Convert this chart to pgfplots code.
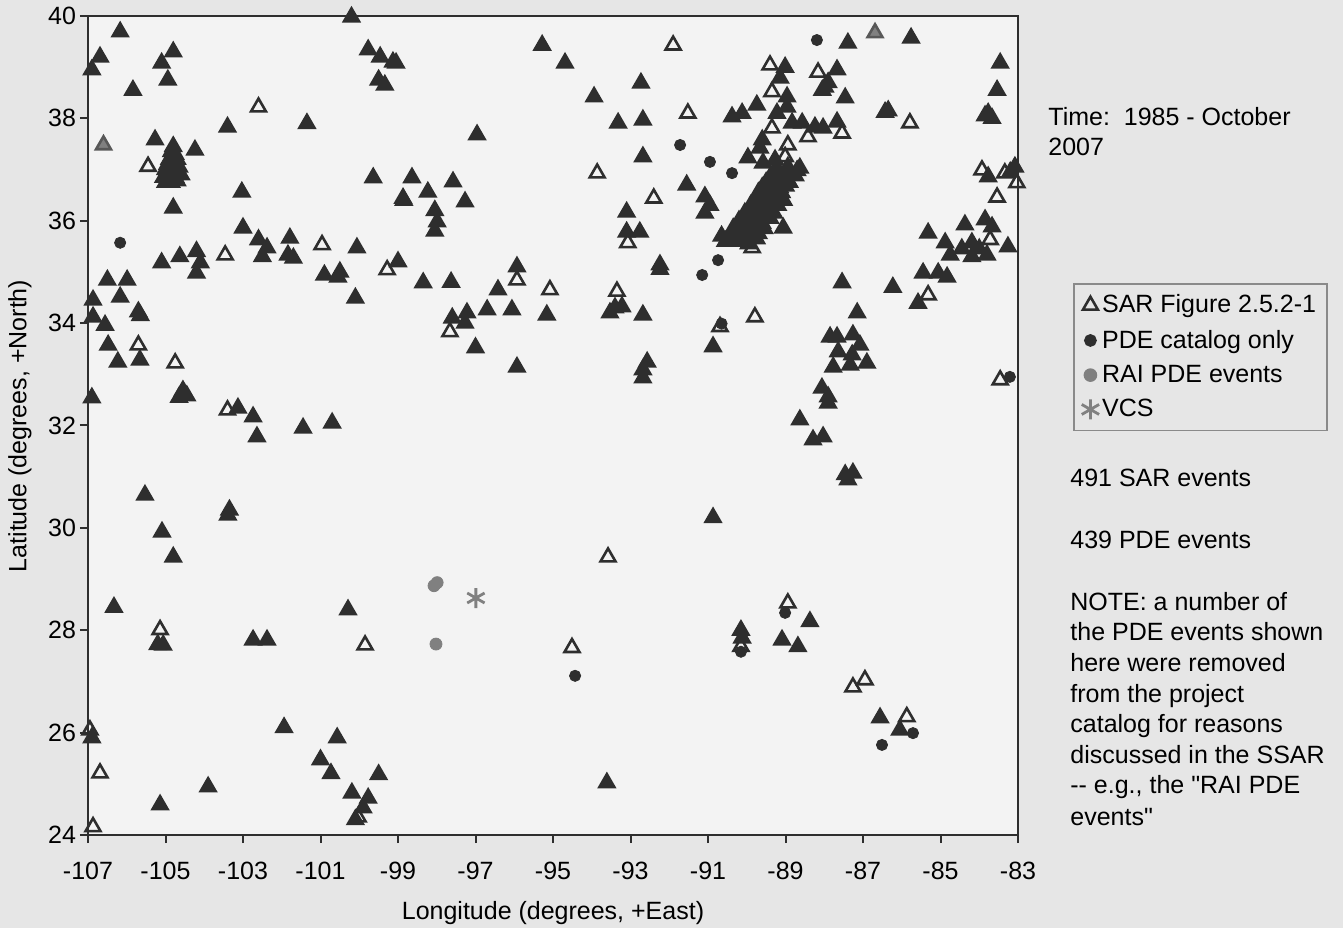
\documentclass[border=0pt]{standalone}
\usepackage{fontspec}
\setmainfont{Liberation Sans}[Ligatures=TeXOff]
\usepackage{pgfplots}
\usepackage{pgfplotstable}
\pgfplotsset{compat=1.18}
\definecolor{pagebg}{HTML}{E6E6E6}
\definecolor{plotbg}{HTML}{F3F3F3}
\definecolor{ink}{HTML}{2E2E2E}
\definecolor{rai}{HTML}{808080}
\definecolor{legline}{HTML}{8A8A8A}
\newcommand{\lbl}{\fontsize{12.5}{15}\selectfont}
\pgfplotsset{
  dotimg/.style={legend image code/.code={\draw[##1] plot coordinates {(0pt,0pt)};}},
}

% SAR events with no PDE match (open triangles)
\pgfplotstableread{
lon lat
-105.45 37.06
-102.60 38.22
-100.96 35.53
-103.46 35.33
-99.28 35.04
-105.70 33.57
-104.75 33.22
-103.40 32.30
-105.14 28.01
-99.85 27.71
-106.95 26.05
-106.69 25.21
-106.87 24.16
-100.03 24.35
-91.90 39.43
-91.52 38.10
-93.86 36.93
-92.40 36.44
-93.07 35.57
-95.93 34.84
-95.08 34.65
-93.35 34.62
-97.66 33.83
-93.58 29.43
-94.51 27.66
-89.40 39.04
-88.16 38.90
-89.35 38.52
-89.35 37.81
-87.54 37.71
-88.42 37.64
-88.94 37.48
-89.01 37.25
-89.86 35.47
-85.79 37.91
-83.93 36.99
-83.34 36.93
-83.03 36.74
-83.54 36.46
-83.72 35.63
-85.32 34.55
-89.79 34.12
-90.69 33.93
-83.46 32.89
-88.94 28.53
-90.15 27.68
-87.26 26.89
-86.95 27.03
-85.87 26.31
}\saronly

% SAR events matched in the PDE catalog (filled triangles)
\pgfplotstableread{
lon lat
-106.17 39.69
-106.69 39.20
-106.90 38.95
-104.80 39.30
-105.10 39.08
-104.94 38.75
-105.84 38.55
-103.40 37.83
-101.35 37.90
-105.27 37.58
-104.24 37.38
-104.80 37.45
-104.85 37.35
-104.75 37.30
-104.90 37.20
-104.70 37.20
-104.95 37.10
-104.80 37.10
-104.65 37.05
-105.00 37.00
-104.85 36.95
-104.70 36.95
-105.05 36.85
-104.90 36.85
-104.75 36.85
-104.60 36.90
-105.00 36.75
-104.85 36.75
-104.70 36.78
-100.20 39.98
-99.77 39.34
-99.46 39.20
-99.13 39.10
-99.05 39.08
-99.50 38.75
-99.34 38.65
-103.03 36.56
-99.64 36.84
-98.87 36.44
-104.80 36.25
-103.00 35.86
-102.60 35.63
-102.38 35.47
-102.50 35.30
-101.79 35.66
-101.84 35.33
-101.70 35.27
-100.06 35.47
-105.10 35.18
-104.63 35.30
-104.20 35.40
-104.10 35.18
-104.20 34.98
-100.90 34.94
-100.50 35.00
-100.55 34.90
-99.00 35.20
-106.50 34.84
-105.99 34.84
-106.87 34.45
-106.17 34.51
-105.70 34.22
-105.65 34.15
-106.87 34.12
-106.56 33.96
-106.48 33.57
-106.23 33.24
-105.66 33.28
-104.55 32.60
-104.65 32.55
-104.45 32.58
-104.55 32.68
-106.90 32.54
-103.13 32.34
-102.74 32.17
-102.64 31.78
-101.45 31.95
-100.70 32.05
-100.10 34.49
-105.53 30.64
-103.39 30.25
-103.35 30.35
-105.09 29.92
-104.80 29.43
-106.33 28.45
-105.06 27.71
-105.20 27.72
-102.74 27.81
-102.38 27.81
-100.29 28.40
-106.90 25.90
-105.14 24.59
-103.90 24.94
-101.94 26.10
-100.57 25.90
-101.00 25.47
-100.73 25.20
-100.19 24.82
-99.77 24.72
-99.90 24.53
-100.10 24.30
-99.50 25.18
-95.28 39.43
-94.69 39.08
-92.73 38.69
-93.94 38.42
-93.32 37.91
-92.68 37.97
-92.68 37.25
-96.96 37.68
-98.64 36.84
-97.58 36.76
-98.23 36.56
-98.85 36.40
-97.27 36.37
-98.05 36.20
-97.99 35.98
-98.05 35.80
-91.55 36.70
-91.08 36.47
-91.08 36.15
-90.95 36.30
-93.10 36.17
-93.10 35.78
-92.76 35.78
-92.24 35.14
-92.24 35.05
-98.35 34.79
-97.63 34.80
-95.93 35.10
-96.42 34.65
-93.40 34.30
-93.22 34.32
-93.53 34.20
-92.68 34.16
-97.60 34.10
-97.22 34.20
-97.27 34.00
-96.70 34.26
-96.06 34.26
-95.16 34.16
-97.00 33.52
-95.93 33.14
-92.57 33.24
-92.68 33.09
-92.68 32.93
-90.87 33.54
-90.87 30.20
-93.61 25.02
-87.39 39.47
-85.76 39.57
-83.46 39.08
-83.54 38.55
-83.77 38.10
-83.67 38.00
-83.85 38.05
-86.43 38.12
-86.35 38.15
-89.01 39.00
-89.14 38.79
-87.67 38.95
-87.98 38.61
-87.90 38.70
-88.05 38.55
-87.46 38.40
-88.96 38.42
-88.96 38.22
-89.74 38.26
-90.38 38.03
-90.12 38.10
-89.22 38.10
-88.83 37.91
-88.57 37.91
-88.24 37.83
-88.03 37.81
-87.67 37.93
-89.60 37.58
-89.66 37.42
-89.97 37.23
-89.58 37.13
-89.27 37.19
-88.94 37.05
-88.63 37.03
-89.22 36.86
-88.88 36.90
-90.55 35.60
-90.45 35.65
-90.35 35.62
-90.30 35.72
-90.20 35.70
-90.15 35.80
-90.05 35.78
-90.00 35.90
-89.90 35.85
-89.85 35.95
-89.80 36.05
-89.70 36.00
-89.65 36.12
-89.60 36.20
-89.55 36.10
-89.50 36.30
-89.45 36.22
-89.42 36.40
-89.35 36.35
-89.30 36.50
-89.25 36.45
-89.20 36.58
-89.15 36.65
-89.10 36.55
-89.05 36.72
-89.00 36.68
-88.95 36.80
-88.90 36.75
-88.85 36.90
-88.75 36.88
-88.70 36.98
-89.55 36.45
-89.65 36.35
-89.75 36.25
-89.45 36.55
-89.35 36.65
-89.95 36.10
-89.85 36.20
-89.55 35.85
-89.70 35.75
-90.10 35.60
-89.95 35.55
-89.80 36.40
-89.70 36.55
-89.60 36.65
-89.50 36.75
-89.40 36.85
-89.90 36.30
-90.05 36.15
-90.20 36.00
-90.35 35.85
-89.30 36.95
-89.20 37.00
-89.40 36.05
-89.30 36.15
-89.20 36.30
-89.05 36.40
-89.60 35.95
-89.75 35.65
-90.40 35.75
-90.65 35.70
-89.06 35.86
-85.32 35.76
-84.88 35.57
-84.75 35.33
-84.37 35.92
-84.19 35.57
-84.19 35.30
-83.85 36.02
-83.67 35.88
-83.80 35.33
-83.26 35.49
-84.00 35.45
-84.45 35.45
-83.77 36.86
-83.08 37.05
-83.20 36.95
-85.45 34.98
-85.06 34.98
-84.83 34.90
-87.54 34.79
-86.23 34.70
-85.58 34.39
-87.15 34.20
-87.85 33.73
-87.67 33.73
-87.26 33.77
-87.08 33.57
-87.64 33.44
-87.28 33.38
-86.90 33.22
-87.77 33.14
-87.33 33.18
-88.06 32.73
-87.90 32.56
-87.90 32.44
-88.63 32.11
-88.29 31.72
-88.03 31.78
-87.46 31.04
-87.26 31.07
-87.39 30.94
-88.37 28.17
-90.15 28.00
-90.12 27.85
-89.09 27.81
-88.68 27.68
-86.56 26.29
-86.05 26.05
}\matched

% PDE catalog only
\pgfplotstableread{
lon lat
-106.17 35.57
-91.72 37.48
-90.95 37.15
-90.38 36.93
-91.15 34.94
-90.74 35.23
-88.19 39.53
-94.43 27.11
-83.21 32.95
-89.01 28.34
-90.15 27.58
-85.71 25.99
-86.51 25.76
-90.65 33.99
}\pdeonly

% RAI PDE events
\pgfplotstableread{
lon lat
-98.07 28.87
-97.99 28.93
-98.02 27.73
}\raipde

% SAR events that carry an RAI PDE dot
\pgfplotstableread{
lon lat
-106.60 37.48
-86.69 39.67
}\raisar

\begin{document}
\begin{tikzpicture}
\fill[pagebg] (0,0) rectangle (671.5pt,464pt);
\begin{axis}[
  at={(44pt,46.5pt)}, anchor=south west,
  scale only axis, width=465pt, height=409.5pt,
  xmin=-107, xmax=-83, ymin=24, ymax=40,
  clip=false,
  axis background/.style={fill=plotbg},
  axis line style={draw=ink, line width=1.3pt},
  xtick={-107,-105,...,-83},
  xticklabels={-107,-105,-103,-101,-99,-97,-95,-93,-91,-89,-87,-85,-83},
  ytick={24,26,...,40},
  yticklabels={24,26,28,30,32,34,36,38,40},
  tick align=outside, xtick pos=bottom, ytick pos=left,
  major tick length=4pt,
  tick style={draw=ink, line width=1pt},
  tick label style={font=\lbl, text=black},
  xticklabel style={yshift=-6pt},
  yticklabel style={xshift=1.5pt},
  dotimg,
  legend style={at={(1.0591,0.674)}, anchor=north west, draw=legline,
    line width=0.8pt, fill=none, font=\lbl, text=black,
    row sep=4pt, inner xsep=4pt, inner ysep=4pt,
    nodes={inner sep=1.5pt}},
  legend cell align=left,
]
\addplot[only marks, mark=triangle, mark size=4.3pt, draw=ink, line width=1.3pt]
  table[x=lon, y=lat] {\saronly};
\addlegendentry{SAR Figure 2.5.2-1}
\addplot[only marks, mark=*, mark size=2.8pt, draw=ink, fill=ink]
  table[x=lon, y=lat] {\pdeonly};
\addlegendentry{PDE catalog only}
\addplot[only marks, mark=*, mark size=3pt, draw=rai, fill=rai]
  table[x=lon, y=lat] {\raipde};
\addlegendentry{RAI PDE events}
\addplot[only marks, mark=asterisk, mark size=5pt, draw=rai, line width=1.4pt]
  coordinates {(-96.99,28.63)};
\addlegendentry{VCS}
\addplot[forget plot, only marks, mark=triangle*, mark size=4.3pt, draw=ink, fill=ink, line width=1.3pt]
  table[x=lon, y=lat] {\matched};
\addplot[forget plot, only marks, mark=triangle*, mark size=4.3pt, draw=ink!80, fill=rai, line width=1.3pt]
  table[x=lon, y=lat] {\raisar};
\end{axis}
\node[font=\lbl, anchor=center] at (276.5pt,7.5pt) {Longitude (degrees, +East)};
\node[font=\lbl, anchor=center, rotate=90] at (10pt,251pt) {Latitude (degrees, +North)};
\begin{scope}[every node/.style={font=\lbl, anchor=base west, inner sep=0pt}]
\node at (524pt,401pt) {Time:\ \ 1985 - October};
\node at (524pt,386pt) {2007};
\node at (535pt,220.5pt) {491 SAR events};
\node at (535pt,189.5pt) {439 PDE events};
\node at (535pt,158.5pt) {NOTE: a number of};
\node at (535pt,143.5pt) {the PDE events shown};
\node at (535pt,128pt) {here were removed};
\node at (535pt,113pt) {from the project};
\node at (535pt,97.5pt) {catalog for reasons};
\node at (535pt,82.5pt) {discussed in the SSAR};
\node at (535pt,67pt) {-- e.g., the "RAI PDE};
\node at (535pt,51.5pt) {events"};
\end{scope}
\end{tikzpicture}
\end{document}
